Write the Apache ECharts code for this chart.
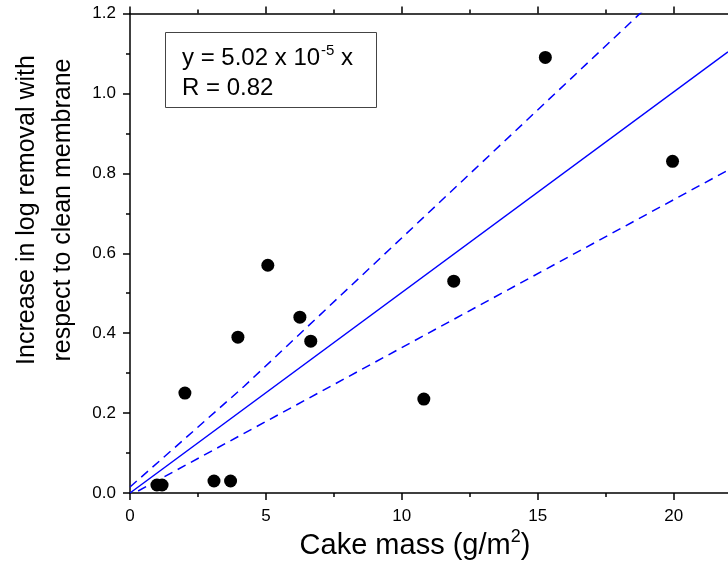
<!DOCTYPE html>
<html>
<head>
<meta charset="utf-8">
<script src="https://cdn.jsdelivr.net/npm/echarts@6/dist/echarts.min.js"></script>
<style>
  html, body { margin: 0; padding: 0; background: #fff; }
  #chart { width: 728px; height: 571px; }
</style>
</head>
<body>
<div id="chart"></div>
<script>
// Data
var cakeMass = [0.99, 1.18, 2.02, 3.09, 3.70, 3.97, 5.07, 6.25, 6.65, 10.81, 11.91, 15.28, 19.96];
var logIncrease = [0.02, 0.02, 0.25, 0.03, 0.03, 0.39, 0.57, 0.44, 0.38, 0.235, 0.53, 1.09, 0.83];
var fitX = [0, 22];
var fitY = [0, 1.104];
var upperX = [0, 4.2, 19.0];
var upperY = [0.015, 0.267, 1.215];
var lowerX = [0.3, 22];
var lowerY = [0.005, 0.808];
var xTicks = [0, 5, 10, 15, 20];
var xMinorTicks = [2.5, 7.5, 12.5, 17.5];
var yTicks = [0.0, 0.2, 0.4, 0.6, 0.8, 1.0, 1.2];

function pairs(xs, ys) { return xs.map(function (x, i) { return [x, ys[i]]; }); }

var FONT = '"Liberation Sans", Arial, sans-serif';
var chart = echarts.init(document.getElementById('chart'), null, { renderer: 'canvas' });

var lineSt = { color: '#000', width: 1.5 };

function xAxisDef(pos, minor) {
  return {
    type: 'value', position: pos, min: 0, max: 22,
    axisLine: { show: !minor, onZero: false, lineStyle: lineSt },
    axisTick: { show: true, inside: false, length: minor ? 4 : 7, lineStyle: lineSt,
                customValues: minor ? xMinorTicks : xTicks },
    axisLabel: (pos === 'bottom' && !minor) ? {
      show: true, customValues: xTicks, color: '#000', fontSize: 17, fontFamily: FONT, margin: 15
    } : { show: false },
    splitLine: { show: false }
  };
}

var option = {
  animation: false,
  backgroundColor: '#fff',
  grid: { left: 130, top: 13.5, right: 0, bottom: 78, containLabel: false },
  xAxis: [
    xAxisDef('bottom', false),
    xAxisDef('bottom', true),
    xAxisDef('top', false),
    xAxisDef('top', true)
  ],
  yAxis: [
    {
      type: 'value', position: 'left', min: 0, max: 1.2, interval: 0.2,
      axisLine: { show: true, onZero: false, lineStyle: lineSt },
      axisTick: { show: true, inside: false, length: 7, lineStyle: lineSt },
      minorTick: { show: true, splitNumber: 2, length: 4, lineStyle: lineSt },
      splitLine: { show: false },
      axisLabel: {
        color: '#000', fontSize: 17, fontFamily: FONT, margin: 14,
        formatter: function (v) {
          for (var i = 0; i < yTicks.length; i++) { if (Math.abs(yTicks[i] - v) < 1e-6) return yTicks[i].toFixed(1); }
          return '';
        }
      }
    }
  ],
  series: [
    {
      type: 'line', xAxisIndex: 0, data: pairs(fitX, fitY), symbol: 'none', clip: true,
      lineStyle: { color: '#0000ff', width: 1.5, type: 'solid' }, z: 2
    },
    {
      type: 'line', xAxisIndex: 0, data: pairs(upperX, upperY), symbol: 'none', clip: true,
      lineStyle: { color: '#0000ff', width: 1.5, type: [9, 6] }, z: 2
    },
    {
      type: 'line', xAxisIndex: 0, data: pairs(lowerX, lowerY), symbol: 'none', clip: true,
      lineStyle: { color: '#0000ff', width: 1.5, type: [9, 6] }, z: 2
    },
    {
      type: 'scatter', xAxisIndex: 0, data: pairs(cakeMass, logIncrease), symbol: 'circle', symbolSize: 13,
      itemStyle: { color: '#000', opacity: 1 }, z: 3
    }
  ],
  graphic: [
    {
      type: 'rect', left: 165, top: 32, z: 10,
      shape: { width: 211, height: 75 },
      style: { fill: '#fff', stroke: '#444', lineWidth: 1 }
    },
    {
      type: 'text', left: 182, top: 43, z: 11,
      style: {
        text: '{a|y = 5.02 x 10}{s|-5}{a| x}\n{a|R = 0.82}',
        rich: {
          a: { fontSize: 24, fontFamily: FONT, fill: '#000', color: '#000', lineHeight: 30, verticalAlign: 'middle' },
          s: { fontSize: 15, fontFamily: FONT, fill: '#000', color: '#000', lineHeight: 30, verticalAlign: 'top', padding: [0, 0, 0, 1] }
        }
      }
    },
    {
      type: 'text', x: 415, y: 546, z: 11,
      style: {
        text: '{a|Cake mass (g/m}{s|2}{a|)}',
        align: 'center', verticalAlign: 'middle',
        rich: {
          a: { fontSize: 29, fontFamily: FONT, fill: '#000', color: '#000', lineHeight: 36, verticalAlign: 'middle' },
          s: { fontSize: 18, fontFamily: FONT, fill: '#000', color: '#000', lineHeight: 36, verticalAlign: 'top' }
        }
      }
    },
    {
      type: 'text', x: 45, y: 210, rotation: Math.PI / 2, z: 11,
      style: {
        text: 'Increase in log removal with\nrespect to clean membrane',
        align: 'center', verticalAlign: 'middle',
        fontSize: 25, fontFamily: FONT, fill: '#000', lineHeight: 36
      }
    }
  ]
};

chart.setOption(option);
</script>
</body>
</html>
